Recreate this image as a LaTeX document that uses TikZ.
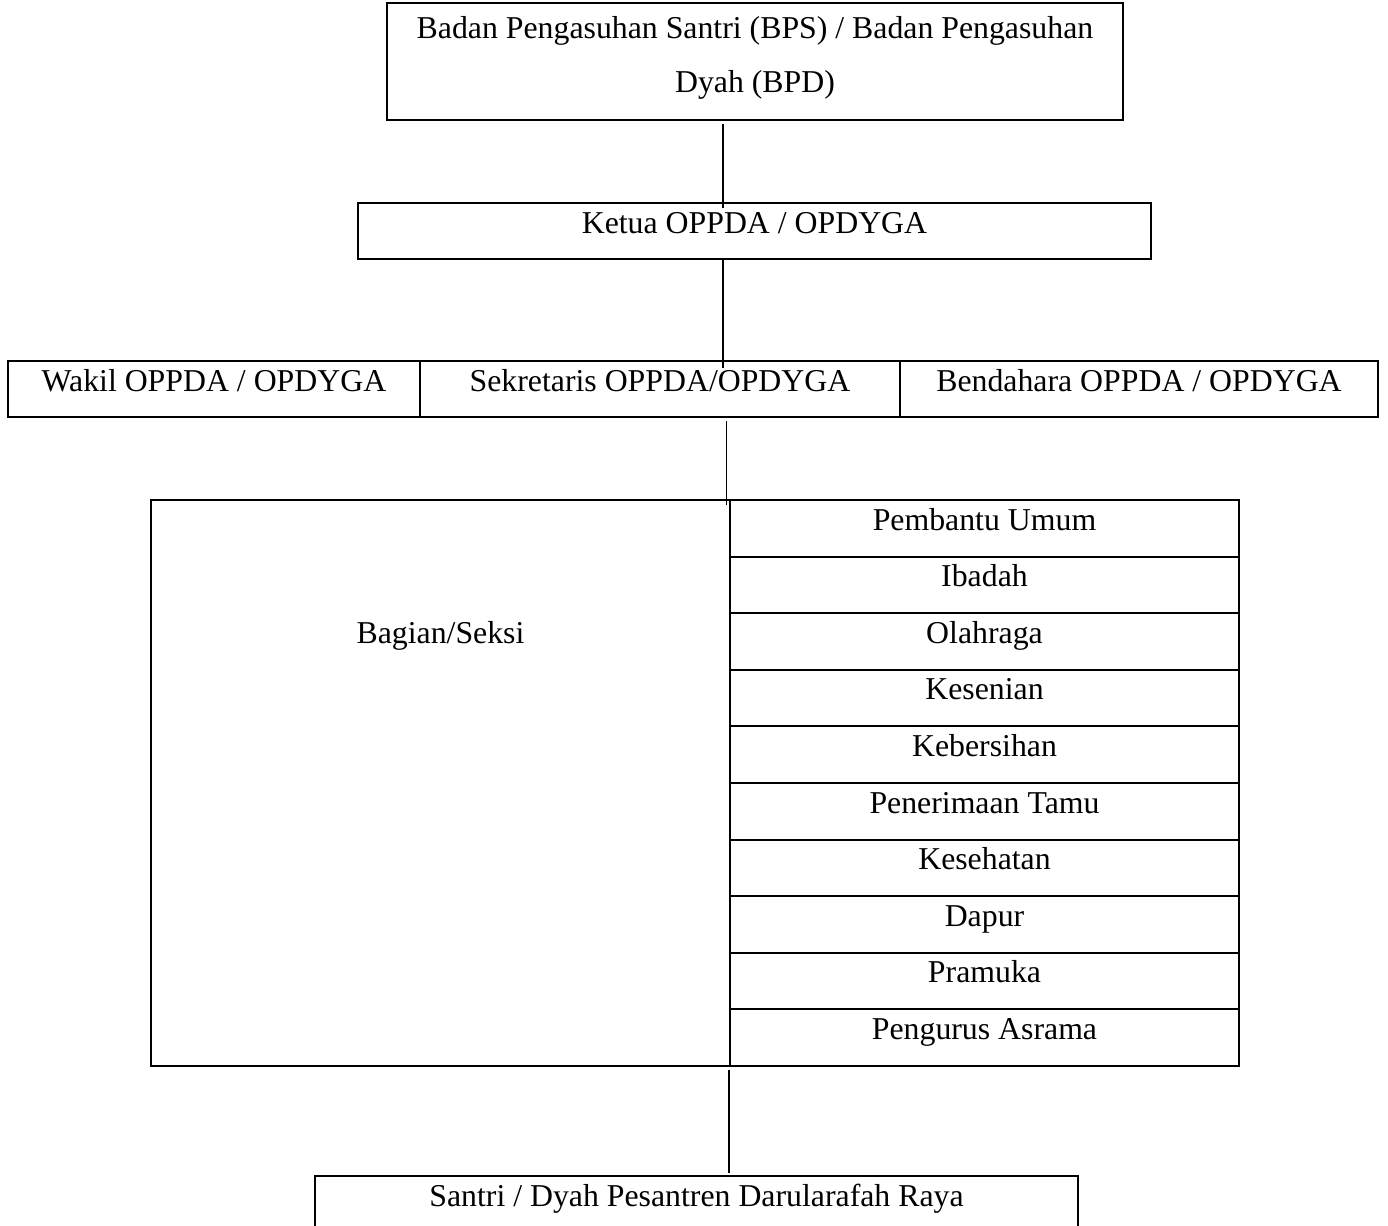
\documentclass[tikz,border=0pt]{standalone}
\usepackage{fontspec}
\setmainfont{Liberation Serif}
\usetikzlibrary{calc}
\tikzset{
  box/.style={draw, line width=1pt, rectangle, inner sep=0pt, outer sep=0pt, text height=10pt, text depth=8pt,
    font=\fontsize{15.9pt}{19pt}\selectfont},
  rowbox/.style={box, minimum width=254.5pt, minimum height=28.3pt, text depth=8.3pt},
  conn/.style={draw, line width=0.6pt}
}
\begin{document}
\begin{tikzpicture}[x=0.5pt, y=-0.5pt]
\useasboundingbox (0,0) rectangle (1388,1226);
\clip (0,0) rectangle (1388,1226);
\fill[white] (0,0) rectangle (1388,1226);

% top box
\node[box, minimum width=368pt, minimum height=58.5pt, text depth=32.5pt] (bps) at (755,61.5)
  {\fontsize{15.9pt}{27pt}\selectfont\begin{tabular}[t]{@{}c@{}}Badan Pengasuhan Santri (BPS) / Badan Pengasuhan\\ Dyah (BPD)\end{tabular}};

% ketua
\node[box, minimum width=396.5pt, minimum height=28pt] (ketua) at (754.5,231) {Ketua OPPDA / OPDYGA};

% row of three
\node[box, minimum width=206pt, minimum height=28pt] (wakil) at (214,389) {Wakil OPPDA / OPDYGA};
\node[box, minimum width=240pt, minimum height=28pt] (sekr) at (660,389) {Sekretaris OPPDA/OPDYGA};
\node[box, minimum width=239pt, minimum height=28pt] (bend) at (1139,389) {Bendahara OPPDA / OPDYGA};

% bagian / seksi
\node[box, minimum width=289.5pt, minimum height=283pt, text depth=150pt] (bagian) at (440.5,783) {Bagian/Seksi};

% right column
\node[rowbox] (r1) at (984.5,528.3) {Pembantu Umum};
\node[rowbox] (r2) at (984.5,584.9) {Ibadah};
\node[rowbox] (r3) at (984.5,641.5) {Olahraga};
\node[rowbox] (r4) at (984.5,698.1) {Kesenian};
\node[rowbox] (r5) at (984.5,754.7) {Kebersihan};
\node[rowbox] (r6) at (984.5,811.3) {Penerimaan Tamu};
\node[rowbox] (r7) at (984.5,867.9) {Kesehatan};
\node[rowbox] (r8) at (984.5,924.5) {Dapur};
\node[rowbox] (r9) at (984.5,981.1) {Pramuka};
\node[rowbox] (r10) at (984.5,1037.7) {Pengurus Asrama};

% bottom box (cut by the page edge)
\node[box, minimum width=381.5pt, minimum height=30pt, text depth=10pt] (santri) at (696.5,1206) {Santri / Dyah Pesantren Darularafah Raya};

% connector columns
\coordinate (x1) at (723,0);
\coordinate (x2) at (726.5,0);
\coordinate (x3) at (729,0);

% connectors
\draw[conn] ($(x1 |- bps.south)+(0,4)$) -- ($(x1 |- ketua.north)+(0,5)$);
\draw[conn] (x1 |- ketua.south) -- ($(x1 |- sekr.north)+(0,7)$);
\draw[conn] ($(x2 |- sekr.south)+(0,4)$) -- ($(x2 |- bagian.north)+(0,5)$);
\draw[conn] ($(x3 |- bagian.south)+(0,4)$) -- ($(x3 |- santri.north)+(0,-3)$);
\end{tikzpicture}
\end{document}
